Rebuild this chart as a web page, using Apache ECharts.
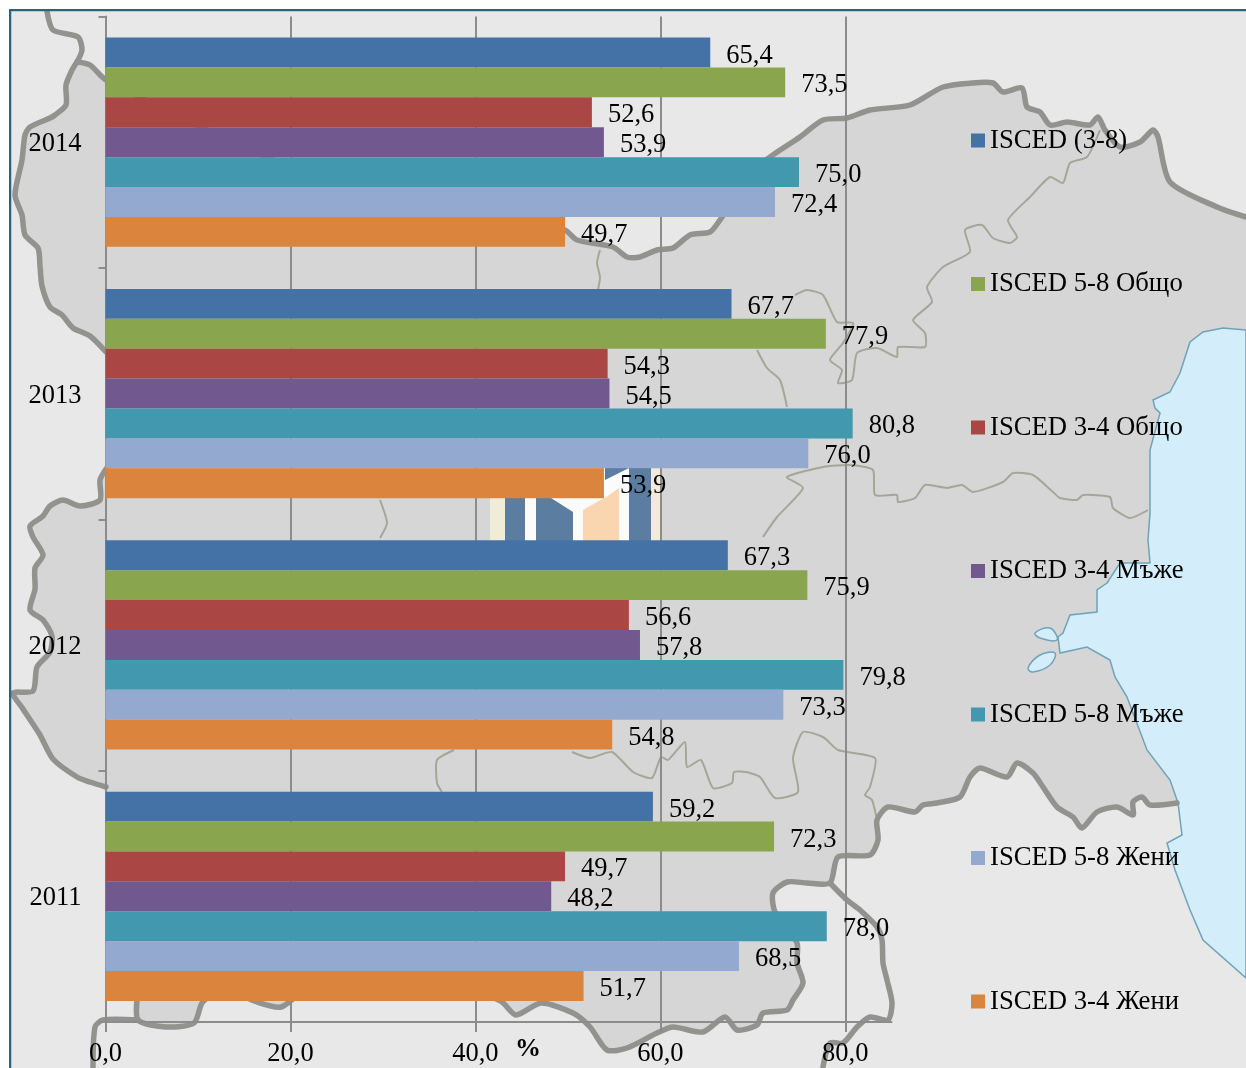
<!DOCTYPE html>
<html>
<head>
<meta charset="utf-8">
<style>html,body{margin:0;padding:0;background:#fff}#c{width:1246px;height:1068px}</style>
<script src="https://cdn.jsdelivr.net/npm/echarts@6/dist/echarts.min.js"></script>
</head>
<body>
<div id="c"></div>
<script>
const years = ['2014', '2013', '2012', '2011'];
const seriesNames = ['ISCED (3-8)', 'ISCED 5-8 Общо', 'ISCED 3-4 Общо', 'ISCED 3-4 Мъже', 'ISCED 5-8 Мъже', 'ISCED 5-8 Жени', 'ISCED 3-4 Жени'];
const isced38 = [65.4, 67.7, 67.3, 59.2];
const isced58Total = [73.5, 77.9, 75.9, 72.3];
const isced34Total = [52.6, 54.3, 56.6, 49.7];
const isced34Men = [53.9, 54.5, 57.8, 48.2];
const isced58Men = [75.0, 80.8, 79.8, 78.0];
const isced58Women = [72.4, 76.0, 73.3, 68.5];
const isced34Women = [49.7, 53.9, 54.8, 51.7];
const allValues = [isced38, isced58Total, isced34Total, isced34Men, isced58Men, isced58Women, isced34Women];
const colors = ['#4472a6', '#89a54e', '#aa4643', '#71588f', '#4198af', '#93a9cf', '#db843d'];
const xTicks = [0, 20, 40, 60, 80];

// Decorative background map (page artwork, not chart data)
const northEdge = [[77,62],[90,65],[106,80],[300,170],[540,225],[565,230],[577,240],[613,247],[627,257],[640,257],[657,250],[673,248],[690,235],[710,232],[720,220],[727,210],[760,165],[800,137],[823,120],[847,118],[870,110],[910,105],[943,87],[972,83],[993,83],[1003,92],[1022,88],[1027,107],[1040,112],[1050,125],[1067,122],[1090,125],[1098,117],[1105,130],[1120,147],[1140,142],[1153,130],[1158,137],[1170,182],[1217,207],[1246,217]];
const coast = [[1246,330],[1223,328],[1203,332],[1190,342],[1180,373],[1170,392],[1153,400],[1155,408],[1160,413],[1150,450],[1150,513],[1148,540],[1150,563],[1120,563],[1107,583],[1097,590],[1097,612],[1070,615],[1063,633],[1058,637],[1060,653],[1087,647],[1110,660],[1115,677],[1127,697],[1147,750],[1170,780],[1178,803]];
const coastSouth = [[1178,803],[1182,835],[1167,843],[1175,870],[1190,910],[1203,940],[1246,978]];
const southMain = [[1177,803],[1150,805],[1142,797],[1133,802],[1133,815],[1117,807],[1097,812],[1082,828],[1073,817],[1057,807],[1043,787],[1033,773],[1017,763],[1007,777],[980,768],[970,777],[960,797],[937,803],[923,805],[915,812],[888,807],[877,820],[878,840],[870,855],[838,857],[830,883],[807,883],[787,882],[773,893],[775,912],[797,943],[797,963],[803,983],[793,1000],[787,1010],[763,1013],[757,1025],[737,1030],[725,1017],[703,1032],[673,1027],[657,1033],[627,1048],[607,1050],[590,1027],[573,1013],[541,1003],[516,1015],[502,1002],[480,992]];
const southWest = [[300,992],[281,1007],[257,1002],[235,992]];
const southFar = [[215,992],[202,1003],[194,1023],[166,1027],[138,1020],[138,992]];
const southEdge = [].concat(southMain, southWest, southFar);
const westLower = [[106,787],[90,782],[77,777],[53,759],[40,735],[23,709],[13,693],[33,691],[37,667],[50,652],[52,636],[43,620],[30,610],[35,589],[35,568],[43,555],[33,537],[30,526],[43,516],[50,506],[63,500],[80,506],[100,500],[100,480],[106,469]];
const westUpper = [[106,352],[90,336],[73,328],[62,315],[50,307],[42,286],[40,266],[38,248],[25,235],[22,215],[15,195],[22,160],[25,135],[30,127],[50,118],[55,115],[66,105],[66,85],[72,70],[77,62]];
const landFill = [].concat(northEdge, coast, southEdge, [[106,990]], westLower, westUpper);
const seaFill = coast.concat(coastSouth);
const heavyLines = [northEdge, southMain, southWest, southFar, westLower, westUpper,
  [[47,11],[53,30],[78,37],[82,50],[77,62]],
  [[830,883],[847,900],[860,910],[877,927],[882,940],[883,963],[887,980],[892,1003],[888,1020],[870,1017],[857,1027],[843,1043],[830,1043],[823,1067]],
  [[138,1020],[103,1020],[95,1027],[93,1067]]];
const thinLines = [
  [[1100,130],[1087,157],[1070,163],[1063,183],[1050,177],[1030,197],[1008,220],[1017,237],[1010,243],[993,238],[982,225],[965,230],[970,252],[943,267],[927,287],[932,302],[913,320],[925,333],[925,347],[898,347],[897,357],[877,348],[857,353],[852,380],[838,383],[842,370],[830,360],[843,343],[853,323],[837,322],[823,295],[807,290],[795,295]],
  [[1148,510],[1130,518],[1113,508],[1110,497],[1083,495],[1077,500],[1060,498],[1053,492],[1033,475],[1013,473],[1003,482],[973,492],[962,485],[947,488],[925,485],[915,498],[898,502],[897,495],[875,495],[873,470],[850,465],[823,467],[787,477],[803,488],[777,517],[763,537]],
  [[600,250],[597,263],[600,277],[598,290]],
  [[757,350],[767,368],[780,380],[787,407]],
  [[380,500],[387,523],[380,538]],
  [[454,750],[437,760],[437,783],[442,792]],
  [[572,752],[590,758],[612,752],[633,772],[652,778],[661,757],[668,760],[685,742],[687,767],[701,760],[713,788],[732,783],[734,772],[746,772],[760,777],[775,798],[798,792],[793,758],[803,732],[823,737],[838,750],[875,758],[870,787],[865,795],[872,800],[877,820]]
];
const lagoons = [
  [[1035,633],[1050,628],[1057,640],[1040,638]],
  [[1028,668],[1040,655],[1055,653],[1050,665],[1033,672]]
];
const logoBlocks = [
  [490,498,15,43,'#f0ecd8'],[505,498,20,43,'#5a7da0'],[525,498,11,43,'#fbfbfb'],[536,498,37,43,'#5a7da0'],
  [573,498,10,43,'#fbfbfb'],[583,498,36,43,'#f9d5b0'],[619,498,10,43,'#fbfbfb'],[629,468,22,73,'#5a7da0'],
  [604,468,25,30,'#fbfbfb'],[651,468,10,73,'#f3ead8']
];
const logoShapes = [
  [[[551,498],[583,498],[583,512],[573,512]],'#fbfbfb'],
  [[[583,498],[604,498],[583,510]],'#fbfbfb'],
  [[[605,468],[629,468],[605,480]],'#5a7da0'],
  [[[605,498],[619,488],[619,498]],'#f9d5b0']
];

const graphics = [];
graphics.push({type:'rect', z:-20, shape:{x:10,y:10,width:1300,height:1100}, style:{fill:'#e8e8e8'}});
graphics.push({type:'polygon', z:-19, shape:{points:landFill}, style:{fill:'#d6d6d6'}});
graphics.push({type:'polygon', z:-18, shape:{points:seaFill}, style:{fill:'#d4edfa', stroke:'#6fa3b8', lineWidth:1.5}});
lagoons.forEach(p => graphics.push({type:'polygon', z:-18, shape:{points:p, smooth:0.4}, style:{fill:'#d4edfa', stroke:'#6fa3b8', lineWidth:1.5}}));
thinLines.forEach(p => graphics.push({type:'polyline', z:-17, shape:{points:p, smooth:0.2}, style:{fill:null, stroke:'#a6a698', lineWidth:2, lineJoin:'round'}}));
logoBlocks.forEach(b => graphics.push({type:'rect', z:-16, shape:{x:b[0],y:b[1],width:b[2],height:b[3]}, style:{fill:b[4]}}));
logoShapes.forEach(s => graphics.push({type:'polygon', z:-16, shape:{points:s[0]}, style:{fill:s[1]}}));
heavyLines.forEach(p => graphics.push({type:'polyline', z:-15, shape:{points:p, smooth:0.25}, style:{fill:null, stroke:'#92928e', lineWidth:5.5, lineJoin:'round', lineCap:'round'}}));
graphics.push({type:'rect', z:-14, shape:{x:10,y:10,width:1300,height:1100}, style:{fill:null, stroke:'#2a6478', lineWidth:2.5}});
graphics.push({type:'rect', z:-14, shape:{x:0,y:0,width:9,height:1068}, style:{fill:'#fff'}});
graphics.push({type:'rect', z:-14, shape:{x:0,y:0,width:1246,height:9}, style:{fill:'#fff'}});
graphics.push({type:'text', z:5, x:515, y:1036, style:{text:'%', font:'bold 26px "Liberation Serif"', fill:'#000'}});

const comma = v => v.toFixed(1).replace('.', ',');
const font = {fontFamily:'"Liberation Serif"', fontSize:26.5, color:'#000'};
const axisGray = '#8c8c8c';

const chart = echarts.init(document.getElementById('c'), null, {renderer:'canvas'});
chart.setOption({
  animation:false,
  color:colors,
  backgroundColor:'#fff',
  graphic:graphics,
  grid:{left:105.5, top:16.5, width:786, height:1005.5},
  legend:{
    orient:'vertical', left:966, top:120.5, itemWidth:14, itemHeight:14, itemGap:113.5,
    icon:'rect', data:seriesNames,
    textStyle:Object.assign({}, font, {lineHeight:26, fontSize:26.7, padding:[4,0,0,0]})
  },
  xAxis:{
    type:'value', min:0, max:85, interval:20, position:'bottom',
    axisLine:{show:true, onZero:false, lineStyle:{color:axisGray, width:2}},
    axisTick:{show:true, length:10, lineStyle:{color:axisGray, width:2}, customValues:xTicks},
    axisLabel:Object.assign({margin:19, formatter:v => comma(v), customValues:xTicks}, font),
    splitLine:{show:true, lineStyle:{color:axisGray, width:2}}
  },
  yAxis:{
    type:'category', data:years, inverse:true,
    axisLine:{show:true, lineStyle:{color:axisGray, width:2}},
    axisTick:{show:true, length:7, lineStyle:{color:axisGray, width:2}},
    axisLabel:Object.assign({margin:24, verticalAlign:'top', lineHeight:4}, font)
  },
  series:seriesNames.map((name, i) => ({
    type:'bar', name, data:allValues[i], barGap:0, barCategoryGap:'16.8%',
    label:Object.assign({show:true, position:'right', distance:15, offset:[1,3], formatter:p => comma(p.value)}, font)
  }))
});
</script>
</body>
</html>
